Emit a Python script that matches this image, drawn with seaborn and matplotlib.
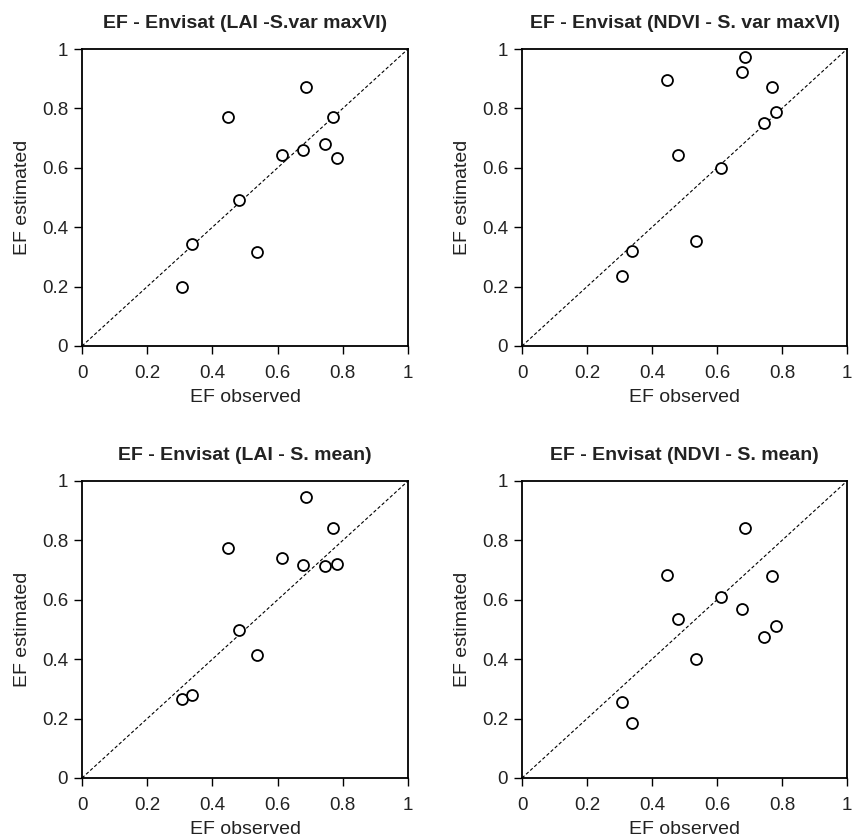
import matplotlib
matplotlib.use("Agg")
import matplotlib.pyplot as plt
import seaborn as sns
import pandas as pd

ef_observed = [0.308, 0.338, 0.447, 0.481, 0.536, 0.612, 0.677, 0.687, 0.746, 0.769, 0.781]
est_lai_svar = [0.200, 0.344, 0.770, 0.492, 0.315, 0.642, 0.661, 0.872, 0.679, 0.770, 0.634]
est_ndvi_svar = [0.237, 0.321, 0.897, 0.644, 0.353, 0.598, 0.921, 0.972, 0.752, 0.871, 0.789]
est_lai_smean = [0.265, 0.279, 0.775, 0.497, 0.415, 0.742, 0.716, 0.947, 0.713, 0.842, 0.719]
est_ndvi_smean = [0.255, 0.184, 0.684, 0.535, 0.399, 0.611, 0.570, 0.841, 0.475, 0.681, 0.513]

titles = ["EF - Envisat (LAI -S.var maxVI)", "EF - Envisat (NDVI - S. var maxVI)",
          "EF - Envisat (LAI - S. mean)", "EF - Envisat (NDVI - S. mean)"]
series = [est_lai_svar, est_ndvi_svar, est_lai_smean, est_ndvi_smean]
ticks = [0, 0.2, 0.4, 0.6, 0.8, 1]
tick_labels = ["0", "0.2", "0.4", "0.6", "0.8", "1"]

sns.set_style("ticks")
plt.rcParams['font.family'] = ['Liberation Sans', 'DejaVu Sans']
txt = "#222222"

fig = plt.figure(figsize=(8.59, 8.39), dpi=100)
W, H = 859, 839
boxes = [(82, 49, 408, 346), (522, 49, 847, 346), (82, 481, 408, 778), (522, 481, 847, 778)]

for (l, t, r, b), title, est in zip(boxes, titles, series):
    ax = fig.add_axes([l / W, 1 - b / H, (r - l) / W, (b - t) / H])
    df = pd.DataFrame({"obs": ef_observed, "est": est})
    ax.plot([0, 1], [0, 1], color="black", linestyle=(0, (3, 2)), linewidth=0.8, zorder=1)
    sns.scatterplot(data=df, x="obs", y="est", ax=ax, marker="o", s=62,
                    facecolor="white", edgecolor="black", linewidth=1.3, zorder=3)
    ax.set_xlim(0, 1)
    ax.set_ylim(0, 1)
    ax.set_xticks(ticks)
    ax.set_xticklabels(tick_labels)
    ax.set_yticks(ticks)
    ax.set_yticklabels(tick_labels)
    ax.tick_params(direction="out", length=6, width=1, labelsize=13.5,
                   colors="black", labelcolor=txt)
    ax.tick_params(axis="x", pad=7.5)
    ax.tick_params(axis="y", pad=4)
    for sp in ax.spines.values():
        sp.set_visible(True)
        sp.set_linewidth(1.3)
        sp.set_color("black")
    ax.set_xlabel("EF observed", fontsize=14, labelpad=5, color=txt)
    ax.set_ylabel("EF estimated", fontsize=14, labelpad=7.5, color=txt)
    ax.set_title(title, fontsize=14, fontweight="bold", pad=15, color=txt)

fig.savefig("out.png", dpi=100, facecolor="white")
